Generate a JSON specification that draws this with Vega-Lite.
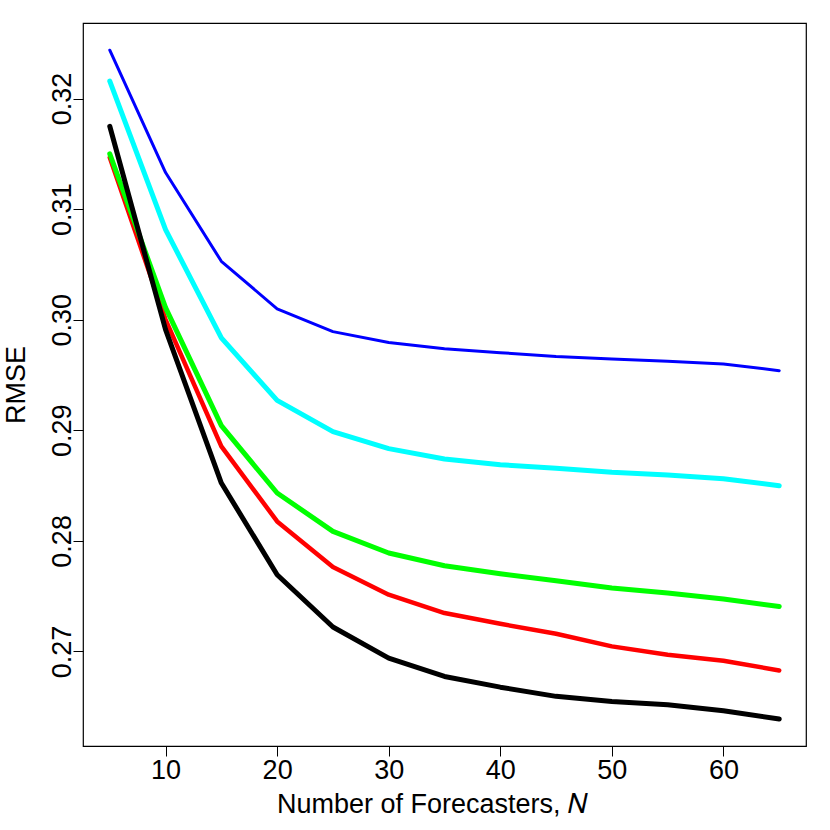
{
  "$schema": "https://vega.github.io/schema/vega-lite/v6.json",
  "autosize": {"type": "none"},
  "width": 723,
  "height": 723,
  "padding": {"left": 83, "top": 23, "right": 24, "bottom": 84},
  "background": "white",
  "config": {
    "view": {"stroke": "black", "strokeWidth": 1.2},
    "font": "Liberation Sans",
    "axis": {
      "domain": false,
      "grid": false,
      "ticks": true,
      "tickSize": 10,
      "tickColor": "black",
      "tickWidth": 1,
      "labelFont": "Liberation Sans",
      "labelFontSize": 27,
      "labelColor": "black",
      "titleFont": "Liberation Sans",
      "titleFontSize": 27,
      "titleFontWeight": "normal",
      "titleColor": "black"
    }
  },
  "data": {
    "values": [
      {"series": "Blue", "n": 5, "rmse": 0.32437}, {"series": "Blue", "n": 10, "rmse": 0.31331}, {"series": "Blue", "n": 15, "rmse": 0.30528}, {"series": "Blue", "n": 20, "rmse": 0.30098}, {"series": "Blue", "n": 25, "rmse": 0.29892}, {"series": "Blue", "n": 30, "rmse": 0.29793}, {"series": "Blue", "n": 35, "rmse": 0.29738}, {"series": "Blue", "n": 40, "rmse": 0.29702}, {"series": "Blue", "n": 45, "rmse": 0.29667}, {"series": "Blue", "n": 50, "rmse": 0.29645}, {"series": "Blue", "n": 55, "rmse": 0.29624}, {"series": "Blue", "n": 60, "rmse": 0.29600}, {"series": "Blue", "n": 65, "rmse": 0.29539},
      {"series": "Cyan", "n": 5, "rmse": 0.32157}, {"series": "Cyan", "n": 10, "rmse": 0.30815}, {"series": "Cyan", "n": 15, "rmse": 0.29835}, {"series": "Cyan", "n": 20, "rmse": 0.29271}, {"series": "Cyan", "n": 25, "rmse": 0.28988}, {"series": "Cyan", "n": 30, "rmse": 0.28834}, {"series": "Cyan", "n": 35, "rmse": 0.28741}, {"series": "Cyan", "n": 40, "rmse": 0.28689}, {"series": "Cyan", "n": 45, "rmse": 0.28657}, {"series": "Cyan", "n": 50, "rmse": 0.28620}, {"series": "Cyan", "n": 55, "rmse": 0.28596}, {"series": "Cyan", "n": 60, "rmse": 0.28562}, {"series": "Cyan", "n": 65, "rmse": 0.28499},
      {"series": "Green", "n": 5, "rmse": 0.31500}, {"series": "Green", "n": 10, "rmse": 0.30109}, {"series": "Green", "n": 15, "rmse": 0.29042}, {"series": "Green", "n": 20, "rmse": 0.28433}, {"series": "Green", "n": 25, "rmse": 0.28086}, {"series": "Green", "n": 30, "rmse": 0.27890}, {"series": "Green", "n": 35, "rmse": 0.27775}, {"series": "Green", "n": 40, "rmse": 0.27703}, {"series": "Green", "n": 45, "rmse": 0.27640}, {"series": "Green", "n": 50, "rmse": 0.27573}, {"series": "Green", "n": 55, "rmse": 0.27528}, {"series": "Green", "n": 60, "rmse": 0.27474}, {"series": "Green", "n": 65, "rmse": 0.27407},
      {"series": "Red", "n": 5, "rmse": 0.31466}, {"series": "Red", "n": 10, "rmse": 0.30001}, {"series": "Red", "n": 15, "rmse": 0.28855}, {"series": "Red", "n": 20, "rmse": 0.28176}, {"series": "Red", "n": 25, "rmse": 0.27763}, {"series": "Red", "n": 30, "rmse": 0.27513}, {"series": "Red", "n": 35, "rmse": 0.27347}, {"series": "Red", "n": 40, "rmse": 0.27250}, {"series": "Red", "n": 45, "rmse": 0.27160}, {"series": "Red", "n": 50, "rmse": 0.27046}, {"series": "Red", "n": 55, "rmse": 0.26970}, {"series": "Red", "n": 60, "rmse": 0.26916}, {"series": "Red", "n": 65, "rmse": 0.26828},
      {"series": "Black", "n": 5, "rmse": 0.31749}, {"series": "Black", "n": 10, "rmse": 0.29910}, {"series": "Black", "n": 15, "rmse": 0.28523}, {"series": "Black", "n": 20, "rmse": 0.27694}, {"series": "Black", "n": 25, "rmse": 0.27221}, {"series": "Black", "n": 30, "rmse": 0.26940}, {"series": "Black", "n": 35, "rmse": 0.26774}, {"series": "Black", "n": 40, "rmse": 0.26677}, {"series": "Black", "n": 45, "rmse": 0.26594}, {"series": "Black", "n": 50, "rmse": 0.26548}, {"series": "Black", "n": 55, "rmse": 0.26518}, {"series": "Black", "n": 60, "rmse": 0.26463}, {"series": "Black", "n": 65, "rmse": 0.26389}
    ]
  },
  "encoding": {
    "x": {
      "field": "n", "type": "quantitative",
      "scale": {"domain": [2.6, 67.4], "nice": false, "zero": false},
      "axis": {"values": [10, 20, 30, 40, 50, 60], "title": "Number of Forecasters, 𝑁", "labelPadding": 1, "titlePadding": 8, "titleX": 349, "titleAlign": "center", "labelFlush": false}
    },
    "y": {
      "field": "rmse", "type": "quantitative",
      "scale": {"domain": [0.26145, 0.32683], "nice": false, "zero": false},
      "axis": {"values": [0.27, 0.28, 0.29, 0.30, 0.31, 0.32], "format": ".2f", "title": "RMSE", "labelAngle": -90, "labelAlign": "center", "labelBaseline": "alphabetic", "labelPadding": 3, "titlePadding": 18, "labelFlush": false}
    }
  },
  "layer": [
    {"transform": [{"filter": "datum.series === 'Blue'"}], "mark": {"type": "line", "color": "#0000FF", "strokeWidth": 3, "strokeCap": "round", "strokeJoin": "round"}},
    {"transform": [{"filter": "datum.series === 'Cyan'"}], "mark": {"type": "line", "color": "#00FFFF", "strokeWidth": 5, "strokeCap": "round", "strokeJoin": "round"}},
    {"transform": [{"filter": "datum.series === 'Red'"}], "mark": {"type": "line", "color": "#FF0000", "strokeWidth": 4.5, "strokeCap": "round", "strokeJoin": "round"}},
    {"transform": [{"filter": "datum.series === 'Green'"}], "mark": {"type": "line", "color": "#00FF00", "strokeWidth": 5, "strokeCap": "round", "strokeJoin": "round"}},
    {"transform": [{"filter": "datum.series === 'Black'"}], "mark": {"type": "line", "color": "#000000", "strokeWidth": 5, "strokeCap": "round", "strokeJoin": "round"}}
  ]
}
